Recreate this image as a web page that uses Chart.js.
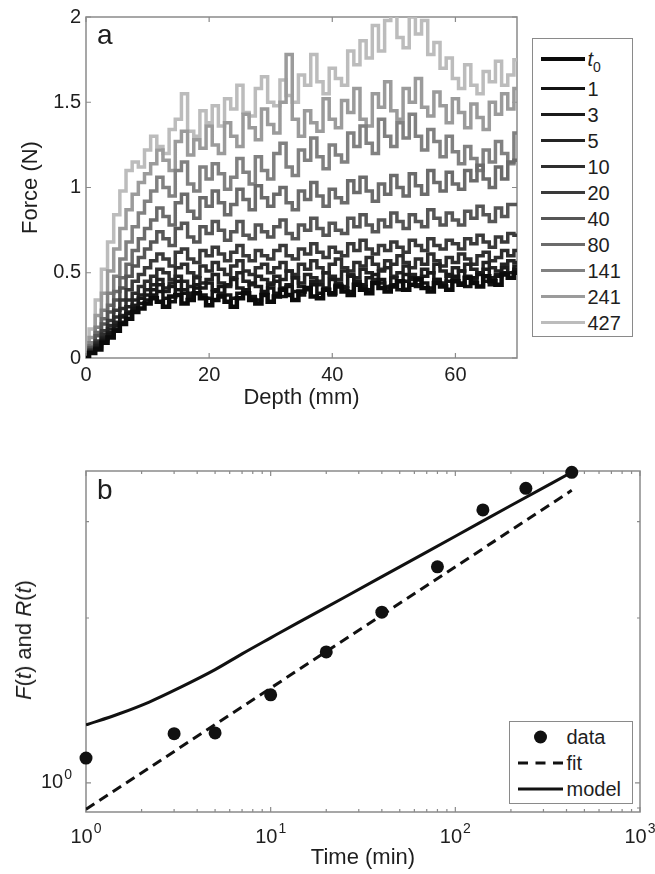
<!DOCTYPE html>
<html>
<head>
<meta charset="utf-8">
<title>Force vs depth and F(t), R(t)</title>
<script src="https://cdn.jsdelivr.net/npm/chart.js@4.4.1/dist/chart.umd.min.js"></script>
<style>
    html, body { margin: 0; padding: 0; background: #fff; }
    body {
        position: relative; width: 655px; height: 874px; overflow: hidden;
        font-family: "Liberation Sans", Arial, Helvetica, sans-serif; color: #1e1e1e;
    }
    canvas { position: absolute; left: 0; }
    #force-chart { top: 0; }
    #ratio-chart { top: 420px; }
    .panel-tag { position: absolute; left: 97px; font-size: 28px; line-height: 28px; }
    .legend {
        position: absolute; box-sizing: border-box; background: #fff;
        border: 1.5px solid #8a8a8a;
    }
    .legend-row { display: flex; align-items: center; font-size: 20px; line-height: 22px; }
    .legend-row sub { font-size: 14px; line-height: 0; vertical-align: -6px; }
    .y-title {
        position: absolute; font-size: 22px; white-space: nowrap;
        transform: translate(-50%, -50%) rotate(-90deg);
    }
</style>
</head>
<body>
<canvas id="force-chart" width="655" height="420"></canvas>
<canvas id="ratio-chart" width="655" height="454"></canvas>
<div class="panel-tag" style="top:21px">a</div>
<div class="panel-tag" style="top:476px">b</div>
<div id="force-legend" class="legend" style="left:532px;top:38px;width:101px;height:299px;padding-top:3.5px"></div>
<div id="ratio-legend" class="legend" style="left:509px;top:721px;width:124px;height:83px;padding-top:1.5px"></div>
<div class="y-title" style="left:24px;top:640px"><i>F</i>(<i>t</i>) and <i>R</i>(<i>t</i>)</div>
<script>
// ---- panel a: force vs depth ----
const depthMm = [
    0, 1, 2, 3, 4, 5, 6, 7, 8, 9, 10, 11, 12, 13, 14, 15, 16, 17, 18, 19, 20,
    21, 22, 23, 24, 25, 26, 27, 28, 29, 30, 31, 32, 33, 34, 35, 36, 37, 38, 39, 40,
    41, 42, 43, 44, 45, 46, 47, 48, 49, 50, 51, 52, 53, 54, 55, 56, 57, 58, 59, 60,
    61, 62, 63, 64, 65, 66, 67, 68, 69, 70,
];
const seriesLabels = ['t0', '1', '3', '5', '10', '20', '40', '80', '141', '241', '427'];

const forceT0 = [
    0, 0.03, 0.05, 0.09, 0.12, 0.16, 0.2, 0.23, 0.27, 0.29, 0.32,
    0.35, 0.33, 0.3, 0.36, 0.37, 0.32, 0.34, 0.38, 0.35, 0.31,
    0.34, 0.36, 0.33, 0.3, 0.35, 0.38, 0.34, 0.32, 0.37, 0.33,
    0.36, 0.4, 0.37, 0.34, 0.39, 0.41, 0.36, 0.35, 0.4, 0.38,
    0.42, 0.39, 0.37, 0.43, 0.4, 0.38, 0.44, 0.41, 0.39, 0.42,
    0.45, 0.4, 0.43, 0.46, 0.41, 0.39, 0.44, 0.42, 0.4, 0.45,
    0.43, 0.47, 0.44, 0.42, 0.48, 0.45, 0.43, 0.49, 0.47, 0.5,
];
const force1 = [
    0, 0.03, 0.06, 0.1, 0.14, 0.17, 0.21, 0.26, 0.29, 0.32, 0.34,
    0.37, 0.39, 0.35, 0.33, 0.4, 0.38, 0.36, 0.41, 0.37, 0.35,
    0.39, 0.42, 0.37, 0.35, 0.38, 0.4, 0.36, 0.34, 0.39, 0.41,
    0.38, 0.36, 0.42, 0.39, 0.37, 0.41, 0.43, 0.38, 0.4, 0.37,
    0.43, 0.41, 0.39, 0.45, 0.42, 0.4, 0.44, 0.46, 0.41, 0.43,
    0.4, 0.45, 0.47, 0.42, 0.44, 0.41, 0.46, 0.43, 0.45, 0.48,
    0.44, 0.42, 0.47, 0.49, 0.45, 0.43, 0.48, 0.5, 0.47, 0.52,
];
const force3 = [
    0, 0.03, 0.07, 0.11, 0.15, 0.19, 0.24, 0.27, 0.31, 0.35, 0.37,
    0.4, 0.43, 0.39, 0.42, 0.45, 0.4, 0.38, 0.43, 0.41, 0.44,
    0.4, 0.38, 0.43, 0.46, 0.41, 0.39, 0.44, 0.42, 0.38, 0.43,
    0.45, 0.41, 0.43, 0.47, 0.42, 0.4, 0.45, 0.43, 0.41, 0.46,
    0.44, 0.42, 0.48, 0.45, 0.43, 0.47, 0.49, 0.44, 0.42, 0.47,
    0.45, 0.49, 0.46, 0.43, 0.48, 0.5, 0.46, 0.44, 0.49, 0.47,
    0.51, 0.48, 0.46, 0.5, 0.52, 0.47, 0.49, 0.53, 0.5, 0.54,
];
const force5 = [
    0, 0.04, 0.08, 0.12, 0.17, 0.21, 0.25, 0.3, 0.34, 0.37, 0.4,
    0.43, 0.46, 0.41, 0.44, 0.48, 0.45, 0.42, 0.47, 0.44, 0.46,
    0.49, 0.44, 0.42, 0.47, 0.5, 0.45, 0.43, 0.48, 0.46, 0.44,
    0.48, 0.46, 0.51, 0.47, 0.44, 0.49, 0.47, 0.45, 0.5, 0.48,
    0.46, 0.51, 0.49, 0.47, 0.52, 0.5, 0.46, 0.51, 0.53, 0.48,
    0.5, 0.54, 0.49, 0.47, 0.52, 0.5, 0.55, 0.51, 0.48, 0.53,
    0.51, 0.55, 0.52, 0.5, 0.56, 0.53, 0.51, 0.55, 0.57, 0.56,
];
const force10 = [
    0, 0.04, 0.09, 0.14, 0.19, 0.24, 0.29, 0.34, 0.38, 0.42, 0.45,
    0.48, 0.52, 0.5, 0.46, 0.53, 0.55, 0.5, 0.48, 0.54, 0.51,
    0.56, 0.52, 0.49, 0.54, 0.57, 0.51, 0.49, 0.53, 0.55, 0.5,
    0.53, 0.56, 0.51, 0.49, 0.55, 0.52, 0.57, 0.53, 0.5, 0.55,
    0.58, 0.53, 0.51, 0.56, 0.54, 0.59, 0.55, 0.52, 0.57, 0.55,
    0.6, 0.56, 0.53, 0.58, 0.55, 0.61, 0.57, 0.54, 0.59, 0.56,
    0.61, 0.58, 0.55, 0.6, 0.62, 0.57, 0.59, 0.63, 0.6, 0.63,
];
const force20 = [
    0, 0.05, 0.1, 0.16, 0.22, 0.28, 0.34, 0.4, 0.45, 0.49, 0.53,
    0.57, 0.61, 0.58, 0.54, 0.62, 0.64, 0.58, 0.56, 0.63, 0.6,
    0.65, 0.61, 0.57, 0.62, 0.66, 0.6, 0.57, 0.63, 0.6, 0.58,
    0.63, 0.66, 0.6, 0.58, 0.64, 0.61, 0.67, 0.62, 0.59, 0.65,
    0.62, 0.6, 0.67, 0.63, 0.69, 0.64, 0.61, 0.66, 0.63, 0.68,
    0.65, 0.62, 0.69, 0.66, 0.63, 0.7, 0.66, 0.64, 0.69, 0.67,
    0.64, 0.7, 0.67, 0.72, 0.68, 0.65, 0.71, 0.68, 0.73, 0.72,
];
const force40 = [
    0, 0.06, 0.13, 0.2, 0.27, 0.34, 0.41, 0.48, 0.54, 0.59, 0.64,
    0.68, 0.74, 0.7, 0.66, 0.76, 0.79, 0.71, 0.68, 0.77, 0.73,
    0.8, 0.75, 0.69, 0.74, 0.8, 0.72, 0.7, 0.78, 0.74, 0.71,
    0.77, 0.81, 0.73, 0.7, 0.78, 0.75, 0.82, 0.76, 0.72, 0.79,
    0.75, 0.73, 0.82, 0.77, 0.84, 0.78, 0.74, 0.81, 0.77, 0.85,
    0.8, 0.76, 0.84, 0.8, 0.77, 0.87, 0.82, 0.78, 0.85, 0.81,
    0.78, 0.86, 0.82, 0.89, 0.84, 0.8, 0.88, 0.83, 0.9, 0.9,
];
const force80 = [
    0, 0.07, 0.15, 0.23, 0.31, 0.39, 0.47, 0.55, 0.63, 0.7, 0.76,
    0.81, 0.88, 0.83, 0.78, 0.91, 0.96, 0.86, 0.82, 0.94, 0.89,
    0.98, 0.91, 0.84, 0.9, 0.99, 0.93, 0.87, 1.01, 0.94, 0.89,
    0.96, 1.0, 0.91, 0.87, 0.98, 0.93, 1.03, 0.95, 0.89, 0.99,
    0.94, 0.91, 1.04, 0.97, 1.06, 0.98, 0.92, 1.02, 0.96, 1.07,
    1.0, 0.95, 1.08, 1.01, 0.96, 1.1, 1.03, 0.98, 1.09, 1.02,
    0.99, 1.1, 1.04, 1.13, 1.05, 1.0, 1.12, 1.05, 1.15, 1.16,
];
const force141 = [
    0, 0.09, 0.18, 0.28, 0.38, 0.48, 0.58, 0.68, 0.77, 0.85, 0.92,
    0.98, 1.06, 1.0, 0.95, 1.1, 1.15, 1.02, 0.98, 1.12, 1.05,
    1.14, 1.08, 0.99, 1.06, 1.17, 1.09, 1.02, 1.18, 1.1, 1.05,
    1.2, 1.26, 1.12, 1.07, 1.22, 1.16, 1.29, 1.18, 1.11, 1.25,
    1.19, 1.15, 1.32, 1.24, 1.36, 1.26, 1.2, 1.4, 1.3, 1.24,
    1.38, 1.29, 1.43, 1.3, 1.22, 1.34, 1.27, 1.18, 1.3, 1.21,
    1.14, 1.24, 1.17, 1.1, 1.22, 1.15, 1.27, 1.2, 1.14, 1.32,
];
const force241 = [
    0, 0.12, 0.25, 0.38, 0.51, 0.64, 0.76, 0.87, 0.96, 1.03, 1.08,
    1.14, 1.22, 1.16, 1.1, 1.27, 1.33, 1.19, 1.28, 1.23, 1.36,
    1.25, 1.2, 1.38, 1.3, 1.24, 1.43, 1.35, 1.28, 1.46, 1.37,
    1.32, 1.5, 1.78, 1.4, 1.3, 1.45, 1.38, 1.33, 1.52, 1.4,
    1.35, 1.51, 1.44, 1.58, 1.4, 1.36, 1.55, 1.47, 1.62, 1.45,
    1.4, 1.58, 1.5, 1.64, 1.47, 1.42, 1.56, 1.48, 1.38, 1.52,
    1.44, 1.35, 1.49, 1.41, 1.34, 1.5, 1.43, 1.55, 1.46, 1.58,
];
const force427 = [
    0, 0.17, 0.34, 0.52, 0.68, 0.84, 0.98, 1.1, 1.15, 1.12, 1.22,
    1.3, 1.24, 1.2, 1.34, 1.4, 1.55, 1.33, 1.3, 1.45, 1.38,
    1.48, 1.36, 1.52, 1.46, 1.6, 1.44, 1.42, 1.58, 1.65, 1.5,
    1.48, 1.63, 1.54, 1.5, 1.66, 1.6, 1.78, 1.62, 1.55, 1.7,
    1.64, 1.6, 1.8, 1.72, 1.86, 1.76, 1.95, 1.8, 1.98, 2.05,
    1.88, 1.82, 2.0, 1.9, 1.98, 1.78, 1.85, 1.7, 1.76, 1.64,
    1.58, 1.72, 1.6, 1.55, 1.68, 1.62, 1.74, 1.6, 1.66, 1.75,
];
const depthTicks = [0, 20, 40, 60];
const forceTicks = [0, 0.5, 1, 1.5, 2];

// ---- panel b: F(t) and R(t) vs time ----
const timeMin = [1, 3, 5, 10, 20, 40, 80, 141, 241, 427];
const ratioData = [1.11, 1.23, 1.234, 1.448, 1.734, 2.05, 2.48, 3.15, 3.45, 3.69];
const fitTime = [1, 427];
const fitRatio = [0.895, 3.42];
const modelTime = [1, 1.5, 2.2, 3.2, 5, 7, 10, 14, 25, 50, 100, 200, 427];
const modelRatio = [1.276, 1.336, 1.405, 1.491, 1.61, 1.72, 1.84, 1.96, 2.18, 2.48, 2.82, 3.21, 3.69];
const timeMajorTicks = [1, 10, 100, 1000];
const timeMinorTicks = [2, 3, 4, 5, 6, 7, 8, 9, 20, 30, 40, 50, 60, 70, 80, 90, 200, 300, 400, 500, 600, 700, 800, 900];
const ratioMajorTicks = [1];
const ratioMinorTicks = [0.9, 2, 3];

(function () {
    const FONT = '"Liberation Sans", Arial, Helvetica, sans-serif';
    const TEXT = '#1e1e1e';
    const AXIS = '#8a8a8a';
    const INK = '#111111';

    Chart.defaults.font.family = FONT;
    Chart.defaults.color = TEXT;

    const forceSeries = [forceT0, force1, force3, force5, force10, force20, force40, force80, force141, force241, force427];
    const seriesColors = ['#0b0b0b', '#141414', '#1b1b1b', '#242424', '#2e2e2e', '#3a3a3a',
        '#565656', '#6b6b6b', '#818181', '#9b9b9b', '#bcbcbc'];
    const seriesWidths = [4, 3, 3, 3, 3, 3, 3, 3, 3, 3, 3];

    // box + inward tick marks, MATLAB style
    const framePlugin = {
        id: 'frame',
        beforeDatasetsDraw(chart, args, opts) {
            const { ctx, chartArea: a } = chart;
            const xs = chart.scales.x;
            const ys = chart.scales.y;
            ctx.save();
            ctx.strokeStyle = AXIS;
            ctx.lineWidth = 1.5;
            ctx.strokeRect(a.left, a.top, a.right - a.left, a.bottom - a.top);
            ctx.lineWidth = 1.2;
            ctx.beginPath();
            const xMarks = (list, len) => list.forEach((v) => {
                const px = xs.getPixelForValue(v);
                ctx.moveTo(px, a.bottom); ctx.lineTo(px, a.bottom - len);
                ctx.moveTo(px, a.top); ctx.lineTo(px, a.top + len);
            });
            const yMarks = (list, len) => list.forEach((v) => {
                const py = ys.getPixelForValue(v);
                ctx.moveTo(a.left, py); ctx.lineTo(a.left + len, py);
                ctx.moveTo(a.right, py); ctx.lineTo(a.right - len, py);
            });
            xMarks(opts.xMajor || [], 5);
            xMarks(opts.xMinor || [], 3);
            yMarks(opts.yMajor || [], 5);
            yMarks(opts.yMinor || [], 3);
            ctx.stroke();

            if (opts.powerLabels) {
                ctx.fillStyle = TEXT;
                ctx.textBaseline = 'middle';
                ctx.textAlign = 'left';
                const drawPower = (value, x, y, align) => {
                    const exp = String(Math.round(Math.log10(value)));
                    ctx.font = '20px ' + FONT;
                    const baseW = ctx.measureText('10').width;
                    ctx.font = '14px ' + FONT;
                    const expW = ctx.measureText(exp).width;
                    const total = baseW + 1 + expW;
                    const left = align === 'right' ? x - total : x - total / 2;
                    ctx.font = '20px ' + FONT;
                    ctx.fillText('10', left, y);
                    ctx.font = '14px ' + FONT;
                    ctx.fillText(exp, left + baseW + 1, y - 8);
                };
                (opts.xMajor || []).forEach((v) => drawPower(v, xs.getPixelForValue(v), a.bottom + 25, 'center'));
                (opts.yMajor || []).forEach((v) => drawPower(v, a.left - 14, ys.getPixelForValue(v), 'right'));
            }
            ctx.restore();
        },
    };

    const fixedTicks = (values) => (scale) => {
        scale.ticks = values.map((v) => ({ value: v }));
    };

    new Chart(document.getElementById('force-chart'), {
        type: 'line',
        data: {
            labels: depthMm,
            datasets: forceSeries.map((values, i) => ({
                label: seriesLabels[i],
                data: values,
                borderColor: seriesColors[i],
                borderWidth: seriesWidths[i] + 0.5,
                pointRadius: 0,
                stepped: 'middle',
                fill: false,
            })),
        },
        options: {
            responsive: false,
            animation: false,
            events: [],
            layout: { padding: { top: 17, right: 138, left: 0, bottom: 0 } },
            plugins: {
                legend: { display: false },
                tooltip: { enabled: false },
                frame: { xMajor: depthTicks, yMajor: forceTicks },
            },
            scales: {
                x: {
                    type: 'linear',
                    min: 0,
                    max: 70,
                    afterBuildTicks: fixedTicks(depthTicks),
                    afterFit: (s) => { s.height = 62; },
                    grid: { display: false, drawTicks: false },
                    border: { display: false },
                    ticks: { font: { size: 20 }, padding: 5, maxRotation: 0 },
                    title: { display: true, text: 'Depth (mm)', font: { size: 22 }, padding: { top: 0, bottom: 9 } },
                },
                y: {
                    min: 0,
                    max: 2,
                    afterBuildTicks: fixedTicks(forceTicks),
                    afterFit: (s) => { s.width = 86; },
                    grid: { display: false, drawTicks: false },
                    border: { display: false },
                    ticks: { font: { size: 20 }, padding: 5, callback: (v) => String(v) },
                    title: { display: true, text: 'Force (N)', font: { size: 22 }, padding: { top: 18, bottom: 0 } },
                },
            },
        },
        plugins: [framePlugin],
    });

    new Chart(document.getElementById('ratio-chart'), {
        type: 'scatter',
        data: {
            datasets: [
                {
                    label: 'data',
                    data: timeMin.map((t, i) => ({ x: t, y: ratioData[i] })),
                    pointRadius: 6.5,
                    pointBackgroundColor: INK,
                    pointBorderWidth: 0,
                    showLine: false,
                    clip: false,
                },
                {
                    label: 'fit',
                    data: fitTime.map((t, i) => ({ x: t, y: fitRatio[i] })),
                    showLine: true,
                    borderColor: INK,
                    borderWidth: 3,
                    borderDash: [10, 6],
                    pointRadius: 0,
                },
                {
                    label: 'model',
                    data: modelTime.map((t, i) => ({ x: t, y: modelRatio[i] })),
                    showLine: true,
                    borderColor: INK,
                    borderWidth: 3,
                    pointRadius: 0,
                    cubicInterpolationMode: 'monotone',
                },
            ],
        },
        options: {
            responsive: false,
            animation: false,
            events: [],
            layout: { padding: { top: 51, right: 15, left: 0, bottom: 0 } },
            plugins: {
                legend: { display: false },
                tooltip: { enabled: false },
                frame: {
                    xMajor: timeMajorTicks, xMinor: timeMinorTicks,
                    yMajor: ratioMajorTicks, yMinor: ratioMinorTicks,
                    powerLabels: true,
                },
            },
            scales: {
                x: {
                    type: 'logarithmic',
                    min: 1,
                    max: 1000,
                    afterFit: (s) => { s.height = 62; },
                    grid: { display: false, drawTicks: false },
                    border: { display: false },
                    ticks: { display: false },
                    title: { display: true, text: 'Time (min)', font: { size: 22 }, padding: { top: 0, bottom: 3 } },
                },
                y: {
                    type: 'logarithmic',
                    min: 0.885,
                    max: 3.71,
                    afterFit: (s) => { s.width = 86; },
                    grid: { display: false, drawTicks: false },
                    border: { display: false },
                    ticks: { display: false },
                },
            },
        },
        plugins: [framePlugin],
    });

    // legends as HTML so the subscript and line samples read like the figure
    const forceLegend = document.getElementById('force-legend');
    seriesLabels.forEach((label, i) => {
        const row = document.createElement('div');
        row.className = 'legend-row';
        row.style.height = i === 0 ? '33px' : '26px';
        const swatch = document.createElement('span');
        swatch.style.cssText = 'display:inline-block;margin-left:7.5px;width:44px;height:' +
            seriesWidths[i] + 'px;background:' + seriesColors[i];
        const text = document.createElement('span');
        text.style.marginLeft = '3px';
        text.innerHTML = label === 't0' ? '<i>t</i><sub>0</sub>' : label;
        row.appendChild(swatch);
        row.appendChild(text);
        forceLegend.appendChild(row);
    });

    const ratioLegend = document.getElementById('ratio-legend');
    const samples = {
        data: '<circle cx="22.5" cy="7" r="6.5" fill="' + INK + '"/>',
        fit: '<line x1="0" y1="7" x2="45" y2="7" stroke="' + INK + '" stroke-width="3" stroke-dasharray="10 7.5"/>',
        model: '<line x1="0" y1="7" x2="45" y2="7" stroke="' + INK + '" stroke-width="3"/>',
    };
    ['data', 'fit', 'model'].forEach((name) => {
        const row = document.createElement('div');
        row.className = 'legend-row';
        row.style.height = '26px';
        row.innerHTML = '<svg width="45" height="14" style="margin-left:7.5px">' + samples[name] + '</svg>' +
            '<span style="margin-left:4px">' + name + '</span>';
        ratioLegend.appendChild(row);
    });
})();
</script>
</body>
</html>
